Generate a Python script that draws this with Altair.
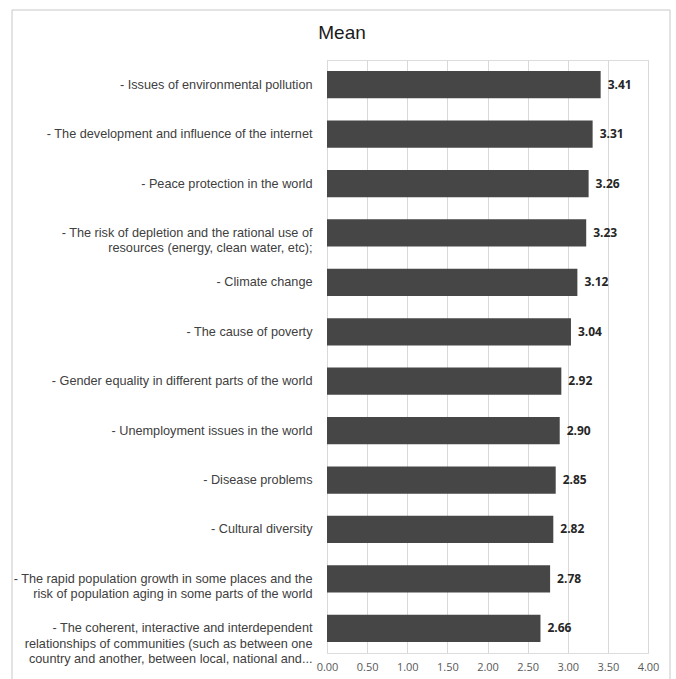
import altair as alt
import pandas as pd

categories = [
    "- Issues of environmental pollution",
    "- The development and influence of the internet",
    "- Peace protection in the world",
    "- The risk of depletion and the rational use of|resources (energy, clean water, etc);",
    "- Climate change",
    "- The cause of poverty",
    "- Gender equality in different parts of the world",
    "- Unemployment issues in the world",
    "- Disease problems",
    "- Cultural diversity",
    "- The rapid population growth in some places and the|risk of population aging in some parts of the world",
    "- The coherent, interactive and interdependent|relationships of communities (such as between one|country and another, between local, national and...",
]
means = [3.41, 3.31, 3.26, 3.23, 3.12, 3.04, 2.92, 2.90, 2.85, 2.82, 2.78, 2.66]
x_ticks = [0, 0.5, 1.0, 1.5, 2.0, 2.5, 3.0, 3.5, 4.0]
chart_title = "Mean"

df = pd.DataFrame({"category": categories, "mean": means})

y_enc = alt.Y(
    "category:N",
    sort=None,
    scale=alt.Scale(paddingInner=0.45, paddingOuter=0.225),
    axis=alt.Axis(
        title=None,
        domain=False,
        ticks=False,
        labelExpr="split(datum.label, '|')",
        labelFont="Liberation Sans",
        labelFontSize=12.7,
        labelColor="#404040",
        labelLineHeight=15.5,
        labelLimit=320,
        labelPadding=15,
        grid=False,
    ),
)

x_enc = alt.X(
    "mean:Q",
    scale=alt.Scale(domain=[0, 4], nice=False),
    axis=alt.Axis(
        title=None,
        values=x_ticks,
        format=".2f",
        domain=False,
        ticks=False,
        grid=True,
        gridColor="#d9d9d9",
        gridWidth=1,
        labelFont="Open Sans",
        labelFontSize=11,
        labelColor="#595959",
        labelPadding=8,
        labelFlush=False,
        labelOverlap=False,
    ),
)

bars = alt.Chart(df).mark_bar(color="#464646").encode(x=x_enc, y=y_enc)

texts = alt.Chart(df).mark_text(
    align="left", baseline="middle", dx=7,
    font="Open Sans", fontSize=12, fontWeight="bold", color="#262626",
).encode(
    x="mean:Q",
    y=alt.Y("category:N", sort=None),
    text=alt.Text("mean:Q", format=".2f"),
)

border = alt.Chart(alt.Data(values=[{"a": 1}])).mark_rect(
    fillOpacity=0, stroke="#c8c8c8", strokeWidth=1
).encode(
    x=alt.value(-315), x2=alt.value(343), y=alt.value(-50), y2=alt.value(700)
)

title = alt.Chart(alt.Data(values=[{"t": chart_title}])).mark_text(
    align="center", baseline="alphabetic",
    font="Liberation Sans", fontSize=19, color="#1a1a1a",
).encode(
    x=alt.value(15), y=alt.value(-21), text="t:N"
)

chart = alt.layer(border, bars, texts, title).properties(
    width=321,
    height=593,
    padding={"left": 327, "top": 60, "right": 28, "bottom": 26},
    autosize=alt.AutoSizeParams(type="none"),
).configure_view(stroke=None).configure(background="white")

chart.save("out.html", embed_options={"renderer": "svg", "actions": False})
